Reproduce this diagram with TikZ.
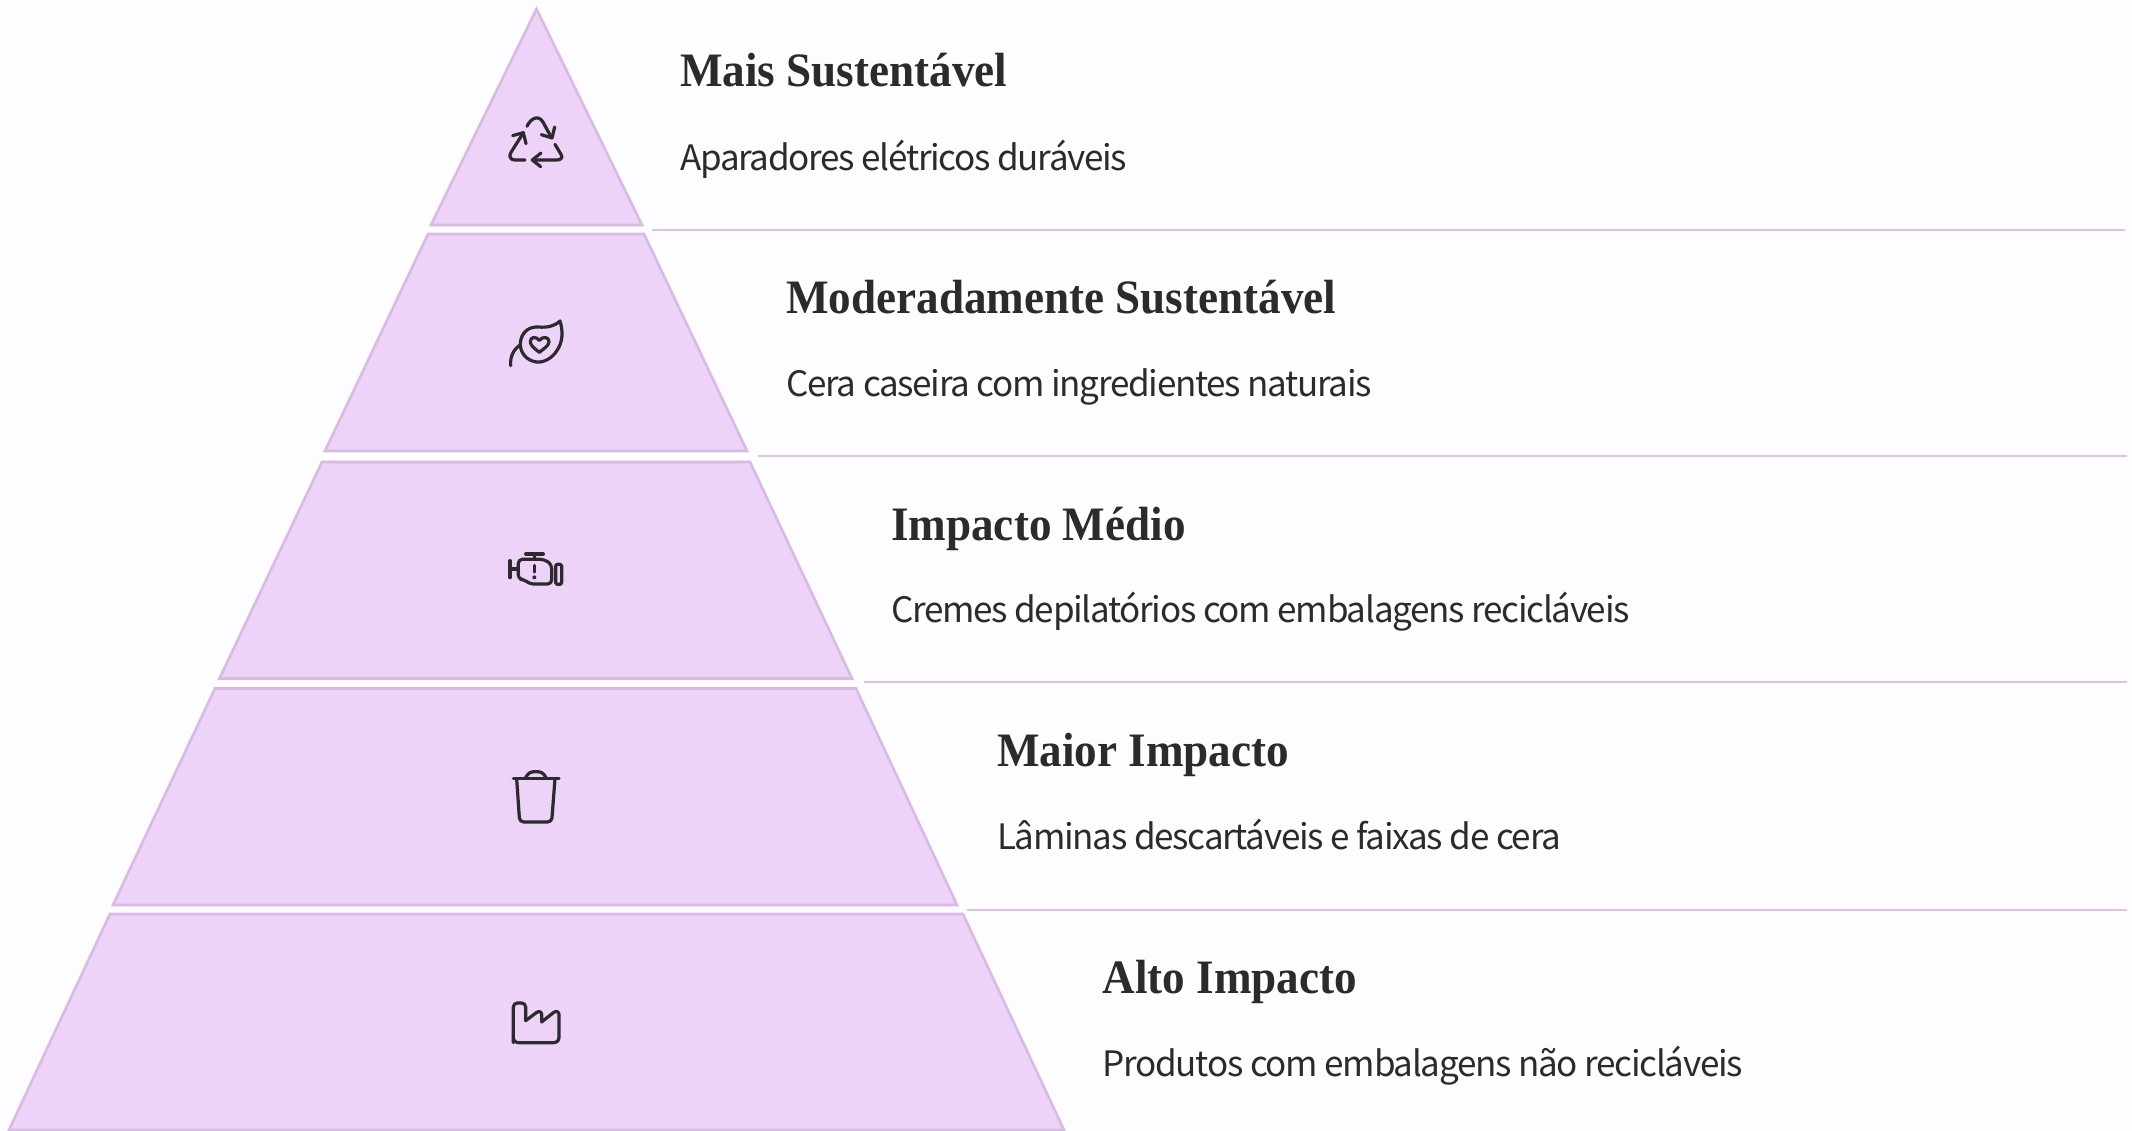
\documentclass[tikz,border=0pt]{standalone}
\usepackage{fontspec}
\setmainfont{Noto Sans CJK SC}[LetterSpace=-3.65]
\newfontfamily\titlefont{Liberation Serif}[BoldFont={Liberation Serif Bold},BoldFeatures={FakeStretch=0.94}]
\definecolor{bgc}{HTML}{FDFCFE}
\definecolor{tierfill}{HTML}{EDD3F8}
\definecolor{tieredge}{HTML}{D7BBE3}
\definecolor{rulec}{HTML}{DEC1E9}
\definecolor{inkc}{HTML}{2B2B2D}
\tikzset{
  tier/.style={fill=tierfill,draw=tieredge,line width=2.6pt,line join=miter},
  rulel/.style={draw=rulec,line width=2.2pt},
  titlet/.style={anchor=base west,inner sep=0pt,text=inkc,font=\titlefont\bfseries\fontsize{48}{52}\selectfont},
  desct/.style={anchor=base west,inner sep=0pt,text=inkc,font=\fontsize{35}{40}\selectfont},
  icon/.style={draw=inkc,line width=3.2pt,line cap=round,line join=round}
}
\begin{document}
\begin{tikzpicture}[x=1pt,y=-1pt]
\useasboundingbox (0,0) rectangle (2132,1131);
\fill[bgc] (0,0) rectangle (2132,1131);
% pyramid tiers
\draw[tier] (536.5,9) -- (642,225) -- (431,225) -- cycle;
\draw[tier] (428,234) -- (644,234) -- (747,451) -- (325,451) -- cycle;
\draw[tier] (322,462) -- (750,462) -- (852,678.5) -- (219.5,678.5) -- cycle;
\draw[tier] (215,688.5) -- (856,688.5) -- (957,905) -- (113,905) -- cycle;
\draw[tier] (110,914) -- (963,914) -- (1064,1130) -- (9,1130) -- cycle;
% rules
\coordinate (r1a) at (652,230); \coordinate (r1b) at (2125,230);
\coordinate (r2a) at (757.5,456); \coordinate (r2b) at (2127,456);
\coordinate (r3a) at (863.5,682); \coordinate (r3b) at (2127,682);
\coordinate (r4a) at (967,910); \coordinate (r4b) at (2127,910);
\draw[rulel] (r1a) -- (r1b);
\draw[rulel] (r2a) -- (r2b);
\draw[rulel] (r3a) -- (r3b);
\draw[rulel] (r4a) -- (r4b);
% texts
\node[titlet] (t1) at (680,87) {Mais Sustentável};
\node[desct] (d1) at (680,170.5) {Aparadores elétricos duráveis};
\node[titlet] (t2) at (786,313) {Moderadamente Sustentável};
\node[desct] (d2) at (786,396.5) {Cera caseira com ingredientes naturais};
\node[titlet] (t3) at (891,540) {Impacto Médio};
\node[desct] (d3) at (891,622.5) {Cremes depilatórios com embalagens recicláveis};
\node[titlet] (t4) at (997,766) {Maior Impacto};
\node[desct] (d4) at (997,849) {Lâminas descartáveis e faixas de cera};
\node[titlet] (t5) at (1102.5,993) {Alto Impacto};
\node[desct] (d5) at (1102.5,1076) {Produtos com embalagens não recicláveis};
% recycle icon
\begin{scope}[x=0.33333pt,y=-0.33333pt,shift={(1140,0)}]
\draw[icon] (441,379) .. controls (450,358) and (475,340) .. (490,368) -- (514,412);
\draw[icon] (484,404) -- (516,414) -- (524,381);
\draw[icon] (525,433) -- (543,463) .. controls (551,475) and (540,480) .. (530,480) -- (458,480);
\draw[icon] (483,459) -- (457,480) -- (482,500);
\draw[icon] (435,480) -- (405,480) .. controls (392,480) and (385,470) .. (393,457) -- (429,400);
\draw[icon] (398,407) -- (430,398) -- (438,431);
\end{scope}
% leaf icon
\begin{scope}[x=0.33333pt,y=-0.33333pt,shift={(1410,900)}]
\draw[icon] (270,63) .. controls (280,95) and (278,125) .. (262,150) .. controls (245,178) and (215,192) .. (190,184) .. controls (160,175) and (145,145) .. (153,118) .. controls (160,92) and (180,80) .. (205,81) .. controls (230,83) and (252,80) .. (270,63) -- cycle;
\draw[icon] (122,197) .. controls (120,170) and (130,148) .. (152,134);
\draw[icon] (208,121) .. controls (198,108) and (180,110) .. (181,126) .. controls (182,138) and (196,147) .. (208,157) .. controls (220,147) and (236,138) .. (237,126) .. controls (238,110) and (218,108) .. (208,121) -- cycle;
\end{scope}
% engine icon
\begin{scope}[x=0.33333pt,y=-0.33333pt,shift={(1410,1590)}]
\draw[icon] (120,92) -- (120,143);
\draw[icon] (120,117) -- (145,117);
\draw[icon,rounded corners=4pt] (145,117) -- (145,88) -- (222,88) -- (245,103) -- (245,162) -- (178,162) -- (163,148) -- (145,148) -- cycle;
\draw[icon] (193,72) -- (193,88);
\draw[icon] (167,72) -- (220,72);
\draw[icon] (193,106) -- (193,126);
\fill[inkc] (193,142) circle[radius=6];
\draw[icon,rounded corners=1.5pt] (257,103) rectangle (275,163);
\end{scope}
% trash icon
\begin{scope}[x=0.33333pt,y=-0.33333pt,shift={(1410,2250)}]
\draw[icon] (130,86) -- (267,86);
\draw[icon,rounded corners=4pt] (165,86) -- (178,65) -- (217,65) -- (230,86);
\draw[icon,rounded corners=4pt] (140,86) -- (149,216) -- (245,216) -- (255,86);
\end{scope}
% factory icon
\begin{scope}[x=0.33333pt,y=-0.33333pt,shift={(1410,2940)}]
\draw[icon,rounded corners=4pt] (130,188) -- (130,69) -- (167,69) -- (167,122);
\draw[icon] (167,122) -- (199,98) .. controls (207,92) and (215,95) .. (215,104) -- (215,126) -- (250,98) .. controls (259,91) and (267,95) .. (267,104) -- (267,172) .. controls (267,182) and (260,188) .. (250,188) -- (146,188) .. controls (136,188) and (130,182) .. (130,172);
\end{scope}
\end{tikzpicture}
\end{document}
